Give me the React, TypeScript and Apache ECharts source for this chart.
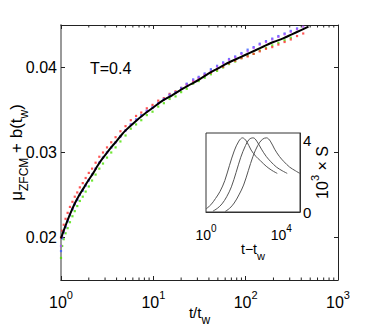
import React, { useEffect, useRef } from 'react';
import * as echarts from 'echarts';

const FONT = "'Liberation Sans', Arial, sans-serif";

// ---- main panel: t/t_w grid shared by the four coloured data sets ----
const T_DATA = [
  1, 1.03, 1.07, 1.12, 1.18, 1.25, 1.33, 1.41, 1.5, 1.6, 1.72, 1.85, 2.0, 2.17, 2.37, 2.6,
  2.85, 3.15, 3.5, 3.9, 4.4, 5.0, 5.7, 6.5, 7.4, 8.5, 9.8, 11.3, 13, 15, 17.4, 20, 23, 27, 31,
  36, 42, 49, 57, 66, 77, 90, 105, 122, 142, 166, 194, 226, 264, 308, 360, 420,
];
const RED = [
  0.0200, 0.0208, 0.0215, 0.0222, 0.0229, 0.0236, 0.0242, 0.0248, 0.0253, 0.0259, 0.0264,
  0.0270, 0.0276, 0.0281, 0.0288, 0.0295, 0.0300, 0.0306, 0.0312, 0.0318, 0.0325, 0.0331,
  0.0338, 0.0343, 0.0347, 0.0352, 0.0356, 0.0361, 0.0364, 0.0369, 0.0372, 0.0376, 0.0380,
  0.0384, 0.0387, 0.0391, 0.0394, 0.0398, 0.0401, 0.0405, 0.0408, 0.0411, 0.0413, 0.0416,
  0.0419, 0.0422, 0.0424, 0.0427, 0.0430, 0.0433, 0.0437, 0.0440,
];
const GREEN = [
  0.0176, 0.0190, 0.0198, 0.0205, 0.0211, 0.0218, 0.0225, 0.0231, 0.0237, 0.0243, 0.0248,
  0.0254, 0.0260, 0.0267, 0.0274, 0.0281, 0.0287, 0.0294, 0.0300, 0.0306, 0.0313, 0.0320,
  0.0328, 0.0333, 0.0338, 0.0344, 0.0348, 0.0354, 0.0358, 0.0363, 0.0366, 0.0371, 0.0375,
  0.0381, 0.0384, 0.0388, 0.0392, 0.0396, 0.0400, 0.0404, 0.0407, 0.0411, 0.0414, 0.0416,
  0.0420, 0.0423, 0.0426, 0.0429, 0.0432, 0.0435, null, null,
];
const BLUE = [
  0.0184, 0.0199, 0.0206, 0.0212, 0.0219, 0.0226, 0.0233, 0.0239, 0.0244, 0.0250, 0.0255,
  0.0261, 0.0267, 0.0274, 0.0281, 0.0288, 0.0294, 0.0300, 0.0306, 0.0312, 0.0319, 0.0326,
  0.0333, 0.0339, 0.0344, 0.0349, 0.0353, 0.0358, 0.0363, 0.0368, 0.0371, 0.0376, 0.0381,
  0.0386, 0.0389, 0.0393, 0.0398, 0.0402, 0.0406, 0.0410, 0.0413, 0.0417, 0.0421, 0.0424,
  0.0428, 0.0431, 0.0434, 0.0437, 0.0440, 0.0443, 0.0446, null,
];
const MAGENTA = [
  0.0190, 0.0201, 0.0207, 0.0213, 0.0220, 0.0227, 0.0234, 0.0240, 0.0245, 0.0251, 0.0256,
  0.0262, 0.0268, 0.0274, 0.0281, 0.0288, 0.0294, 0.0300, 0.0306, 0.0312, 0.0319, 0.0326,
  0.0333, 0.0338, 0.0343, 0.0349, 0.0353, 0.0358, 0.0362, 0.0367, 0.0370, 0.0375, 0.0380,
  0.0385, 0.0388, 0.0392, 0.0396, 0.0401, 0.0405, 0.0409, 0.0412, 0.0416, 0.0419, 0.0423,
  0.0427, 0.0430, 0.0433, 0.0436, 0.0439, 0.0442, 0.0445, 0.0448,
];

// black fit curve
const T_FIT = [
  1, 1.12, 1.26, 1.41, 1.58, 1.78, 2, 2.24, 2.51, 2.82, 3.16, 3.55, 3.98, 4.47, 5.01, 6.31, 7.94,
  10, 12.6, 15.8, 20, 25.1, 31.6, 39.8, 50.1, 63.1, 79.4, 100, 126, 158, 200, 251, 316, 398, 479,
];
const Y_FIT = [
  0.0199, 0.0214, 0.0228, 0.0240, 0.0250, 0.0259, 0.0268, 0.0276, 0.0285, 0.0293, 0.0300,
  0.0307, 0.0313, 0.0320, 0.0326, 0.0336, 0.0345, 0.0353, 0.0361, 0.0367, 0.0374, 0.0380,
  0.0386, 0.0393, 0.0399, 0.0405, 0.0410, 0.0415, 0.0420, 0.0425, 0.0430, 0.0434, 0.0439,
  0.0444, 0.0448,
];

const MAIN_Y_TICKS = [0.02, 0.03, 0.04];
const MAIN_MINOR_X = [2, 3, 4, 5, 6, 7, 8, 9, 20, 30, 40, 50, 60, 70, 80, 90, 200, 300, 400, 500, 600, 700, 800, 900];

// ---- inset: S(t - t_w) curves ----
const INSET_T1 = [1, 1.8, 3.2, 5.6, 10, 17.8, 31.6, 56, 87, 141, 251, 447, 794, 1585, 3162, 6166];
const INSET_S1 = [0.17, 0.4, 0.75, 1.15, 1.75, 2.6, 3.4, 3.95, 4.13, 3.95, 3.45, 3.1, 2.85, 2.55, 2.32, 2.15];
const INSET_T2 = [2.34, 3.98, 7.08, 12.6, 22.4, 39.8, 70.8, 126, 200, 324, 501, 891, 1585, 2818, 5623, 11220, 20893];
const INSET_S2 = [0.05, 0.2, 0.45, 0.85, 1.4, 2.2, 3.05, 3.7, 4.05, 4.13, 3.95, 3.5, 3.1, 2.8, 2.5, 2.3, 2.15];
const INSET_T3 = [10.5, 17.8, 31.6, 56.2, 100, 178, 316, 562, 1000, 1660, 2630, 4467, 7943, 14125, 28184, 56234, 97724];
const INSET_S3 = [0.03, 0.2, 0.5, 0.95, 1.5, 2.3, 3.1, 3.7, 4.05, 4.13, 3.95, 3.5, 3.1, 2.8, 2.5, 2.3, 2.15];
const INSET_Y_TICKS = [0, 4];
const INSET_X_LABELS = [1, 10000];

const Y_MIN = 0.015;
const Y_MAX = 0.045;

const pairs = (xs: number[], ys: (number | null)[]) =>
  xs.map((x, i) => [x, ys[i]]).filter((p) => p[1] !== null);

const expRich = (big: number, small: number, pad: number) => ({
  b: { fontSize: big, fontFamily: FONT, color: '#000', verticalAlign: 'top', lineHeight: big, padding: [pad, 0, 0, 0] },
  s: { fontSize: small, fontFamily: FONT, color: '#000', verticalAlign: 'top', lineHeight: small },
});

export default function App() {
  const ref = useRef<HTMLDivElement>(null);
  useEffect(() => {
    if (!ref.current) return;
    const chart = echarts.init(ref.current, null, { renderer: 'svg' });
    const dot = (name: string, color: string, ys: (number | null)[]) => ({
      name,
      type: 'scatter',
      xAxisIndex: 0,
      yAxisIndex: 0,
      data: pairs(T_DATA, ys),
      symbol: 'rect',
      symbolSize: 2.2,
      itemStyle: { color },
      z: 3,
    });
    const option: any = {
      animation: false,
      backgroundColor: '#fff',
      grid: [
        { left: 61, top: 25, width: 277, height: 255, show: false, containLabel: false, outerBoundsMode: 'none' },
        {
          left: 206, top: 133, width: 94, height: 79, show: true, backgroundColor: '#fff',
          borderColor: '#333', borderWidth: 1, z: 4, containLabel: false, outerBoundsMode: 'none',
        },
      ],
      xAxis: [
        {
          type: 'log', gridIndex: 0, min: 1, max: 1000, logBase: 10, position: 'bottom',
          axisLine: { show: true, lineStyle: { color: '#222', width: 1 } },
          axisTick: { show: true, inside: true, length: 4, lineStyle: { color: '#222' } },
          splitLine: { show: false },
          axisLabel: {
            margin: 9,
            formatter: (v: number) => `{b|10}{s|${Math.round(Math.log10(v))}}`,
            rich: expRich(16, 11, 5),
          },
          name: '{a|t/t}{s|w}',
          nameLocation: 'middle',
          nameGap: 25,
          nameMoveOverlap: false,
          nameTextStyle: {
            rich: {
              a: { fontSize: 15, fontFamily: FONT, color: '#000', verticalAlign: 'top', lineHeight: 15 },
              s: { fontSize: 12, fontFamily: FONT, color: '#000', verticalAlign: 'top', lineHeight: 12, padding: [9, 0, 0, 0] },
            },
          },
        },
        {
          type: 'log', gridIndex: 0, min: 1, max: 1000, logBase: 10, position: 'top',
          axisLine: { show: true, lineStyle: { color: '#222', width: 1 } },
          axisTick: { show: true, inside: true, length: 4, lineStyle: { color: '#222' } },
          axisLabel: { show: false },
          splitLine: { show: false },
        },
        {
          type: 'log', gridIndex: 1, min: 1, max: 100000, logBase: 10, position: 'bottom',
          axisLine: { show: true, lineStyle: { color: '#333', width: 1 } },
          axisTick: { show: true, inside: true, length: 3, lineStyle: { color: '#333' } },
          splitLine: { show: false },
          axisLabel: {
            margin: 11,
            formatter: (v: number) =>
              INSET_X_LABELS.includes(Math.round(v)) ? `{b|10}{s|${Math.round(Math.log10(v))}}` : '',
            rich: expRich(14, 10, 5),
          },
          name: '{a|t\u2212t}{s|w}',
          nameLocation: 'middle',
          nameGap: 30,
          nameMoveOverlap: false,
          nameTextStyle: {
            rich: {
              a: { fontSize: 14, fontFamily: FONT, color: '#000', verticalAlign: 'top', lineHeight: 14 },
              s: { fontSize: 11, fontFamily: FONT, color: '#000', verticalAlign: 'top', lineHeight: 11, padding: [8, 0, 0, 0] },
            },
          },
        },
      ],
      yAxis: [
        {
          type: 'value', gridIndex: 0, min: Y_MIN, max: Y_MAX, position: 'left',
          axisLine: { show: true, lineStyle: { color: '#9a9a9a', width: 2 } },
          axisTick: { show: true, inside: true, length: 4, customValues: MAIN_Y_TICKS, lineStyle: { color: '#222' } },
          splitLine: { show: false },
          axisLabel: {
            customValues: MAIN_Y_TICKS,
            formatter: (v: number) => v.toFixed(2),
            fontSize: 16, fontFamily: FONT, color: '#000', margin: 4,
          },
          name: '{m|\u03bc}{s|ZFCM}{m| + b(t}{s|w}{m|)}',
          nameLocation: 'middle',
          nameRotate: 90,
          nameGap: 36,
          nameMoveOverlap: false,
          nameTextStyle: {
            rich: {
              m: { fontSize: 17, fontFamily: FONT, color: '#000', verticalAlign: 'top', lineHeight: 17 },
              s: { fontSize: 12, fontFamily: FONT, color: '#000', verticalAlign: 'top', lineHeight: 12, padding: [10, 0, 0, 0] },
            },
          },
        },
        {
          type: 'value', gridIndex: 0, min: Y_MIN, max: Y_MAX, position: 'right',
          axisLine: { show: true, lineStyle: { color: '#222', width: 1 } },
          axisTick: { show: true, inside: true, length: 4, customValues: MAIN_Y_TICKS, lineStyle: { color: '#222' } },
          axisLabel: { show: false },
          splitLine: { show: false },
        },
        {
          type: 'value', gridIndex: 1, min: 0, max: 4.4, position: 'right',
          axisLine: { show: true, lineStyle: { color: '#333', width: 1 } },
          axisTick: { show: true, inside: true, length: 3, customValues: INSET_Y_TICKS, lineStyle: { color: '#333' } },
          splitLine: { show: false },
          axisLabel: {
            customValues: INSET_Y_TICKS,
            fontSize: 15, fontFamily: FONT, color: '#000', margin: 3,
          },
          name: '{a|10}{p|3}{a| \u00d7 S}',
          nameLocation: 'middle',
          nameRotate: 90,
          nameGap: 9,
          nameMoveOverlap: false,
          nameTextStyle: {
            rich: {
              a: { fontSize: 16, fontFamily: FONT, color: '#000', verticalAlign: 'top', lineHeight: 16, padding: [5, 0, 0, 0] },
              p: { fontSize: 11, fontFamily: FONT, color: '#000', verticalAlign: 'top', lineHeight: 11 },
            },
          },
        },
      ],
      graphic: [
        {
          type: 'text', left: 90, top: 60, z: 10,
          style: { text: 'T=0.4', fontSize: 16, fontFamily: FONT, fill: '#000' },
        },
      ],
      series: [
        dot('green', '#4ce000', GREEN),
        dot('red', '#ff2a2a', RED),
        dot('blue', '#3a5cff', BLUE),
        dot('magenta', '#b04cff', MAGENTA),
        {
          name: 'fit', type: 'line', xAxisIndex: 0, yAxisIndex: 0,
          data: pairs(T_FIT, Y_FIT), showSymbol: false, smooth: 0.3,
          lineStyle: { color: '#000', width: 2 }, z: 4,
        },
        {
          name: 'minor', type: 'custom', xAxisIndex: 0, yAxisIndex: 0,
          data: MAIN_MINOR_X.map((t) => [t, Y_MIN]),
          clip: false, silent: true, z: 5,
          renderItem: (_p: any, api: any) => {
            const t = api.value(0);
            const b = api.coord([t, Y_MIN]);
            const tp = api.coord([t, Y_MAX]);
            return {
              type: 'group',
              children: [
                { type: 'line', shape: { x1: b[0], y1: b[1], x2: b[0], y2: b[1] - 2.5 }, style: { stroke: '#222', lineWidth: 1 } },
                { type: 'line', shape: { x1: tp[0], y1: tp[1], x2: tp[0], y2: tp[1] + 2.5 }, style: { stroke: '#222', lineWidth: 1 } },
              ],
            };
          },
        },
        ...[[INSET_T1, INSET_S1], [INSET_T2, INSET_S2], [INSET_T3, INSET_S3]].map(([xs, ys], i) => ({
          name: 'S' + (i + 1), type: 'line', xAxisIndex: 2, yAxisIndex: 2,
          data: pairs(xs as number[], ys as number[]), showSymbol: false, smooth: 0.35,
          lineStyle: { color: '#555', width: 1 }, z: 6,
        })),
      ],
    };
    chart.setOption(option);
    return () => chart.dispose();
  }, []);
  return (
    <div
      ref={ref}
      style={{ position: 'absolute', left: 0, top: 0, width: 374, height: 332, background: '#fff' }}
    />
  );
}
